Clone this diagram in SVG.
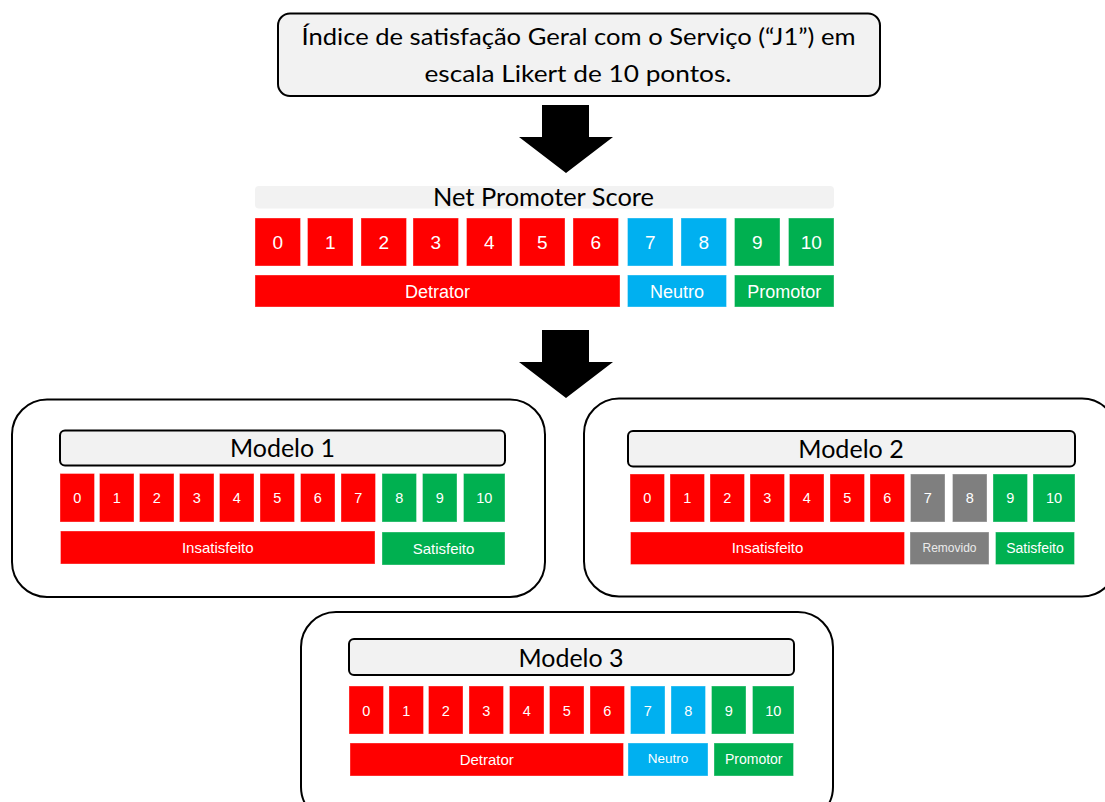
<svg xmlns="http://www.w3.org/2000/svg" width="1105" height="802" viewBox="0 0 1105 802">
  <style>
    .r { fill: #ff0000; }
    .b { fill: #00b0f0; }
    .g { fill: #00b050; }
    .k { fill: #7f7f7f; }
    .cell { stroke: #ffffff; stroke-opacity: 0.35; stroke-width: 1; }
    .panel { fill: #ffffff; stroke: #000000; stroke-width: 2; }
    .head { fill: #f2f2f2; stroke: #000000; stroke-width: 2; }
    .ttl { font-family: Lato, "Open Sans", sans-serif; font-weight: 400; fill: #000000; text-anchor: middle; }
    .lbl { font-family: "Liberation Sans", Arial, sans-serif; fill: #ffffff; text-anchor: middle; }
    .arrow { fill: #000000; }
  </style>

  <rect x="0" y="0" width="1105" height="802" fill="#ffffff"/>

  <!-- source question -->
  <g id="source">
    <rect class="head" x="278" y="13.5" width="602" height="82.5" rx="12"/>
    <text class="ttl" x="578.5" y="45" font-size="23.5" textLength="554" lengthAdjust="spacingAndGlyphs">Índice de satisfação Geral com o Serviço (“J1”) em</text>
    <text class="ttl" x="578" y="81.5" font-size="23.5" textLength="307" lengthAdjust="spacingAndGlyphs">escala Likert de 10 pontos.</text>
  </g>

  <!-- block arrows between stages -->
  <g id="connectors">
    <path class="arrow" d="M542,105 H589 V137 H613 L566,173 L519,137 H542 Z"/>
    <path class="arrow" d="M542,330 H589 V362 H613 L566,398 L519,362 H542 Z"/>
  </g>

  <!-- Net Promoter Score scale -->
  <g id="nps">
    <rect x="255" y="186" width="579" height="22.5" rx="4" fill="#f2f2f2"/>
    <text class="ttl" x="543.5" y="206" font-size="25" textLength="221" lengthAdjust="spacingAndGlyphs">Net Promoter Score</text>
    <g class="cell">
      <rect class="r" x="255" y="218" width="45.5" height="48"/>
      <rect class="r" x="307.5" y="218" width="45.5" height="48"/>
      <rect class="r" x="361" y="218" width="45.5" height="48"/>
      <rect class="r" x="413" y="218" width="45.5" height="48"/>
      <rect class="r" x="466.5" y="218" width="45.5" height="48"/>
      <rect class="r" x="519.5" y="218" width="45.5" height="48"/>
      <rect class="r" x="573" y="218" width="45.5" height="48"/>
      <rect class="b" x="627.5" y="218" width="45.5" height="48"/>
      <rect class="b" x="681" y="218" width="45.5" height="48"/>
      <rect class="g" x="734.5" y="218" width="45.5" height="48"/>
      <rect class="g" x="788.5" y="218" width="45.5" height="48"/>
      <rect class="r" x="255" y="275" width="365" height="32"/>
      <rect class="b" x="627.5" y="275" width="99" height="32"/>
      <rect class="g" x="734.5" y="275" width="99.5" height="32"/>
    </g>
    <g class="lbl" font-size="19">
      <text x="277.75" y="249">0</text>
      <text x="330.25" y="249">1</text>
      <text x="383.75" y="249">2</text>
      <text x="435.75" y="249">3</text>
      <text x="489.25" y="249">4</text>
      <text x="542.25" y="249">5</text>
      <text x="595.75" y="249">6</text>
      <text x="650.25" y="249">7</text>
      <text x="703.75" y="249">8</text>
      <text x="757.25" y="249">9</text>
      <text x="811.25" y="249">10</text>
    </g>
    <g class="lbl" font-size="18">
      <text x="437.5" y="298">Detrator</text>
      <text x="677" y="298">Neutro</text>
      <text x="784.25" y="298">Promotor</text>
    </g>
  </g>

  <!-- Modelo 1: 0-7 unsatisfied, 8-10 satisfied -->
  <g id="modelo1">
    <rect class="panel" x="12" y="399.5" width="533" height="197.5" rx="35"/>
    <rect class="head" x="60" y="430.5" width="445" height="35" rx="5"/>
    <text class="ttl" x="282.5" y="457" font-size="24.5" textLength="105" lengthAdjust="spacingAndGlyphs">Modelo 1</text>
    <g class="cell">
      <rect class="r" x="60" y="473.5" width="34.5" height="48.5"/>
      <rect class="r" x="99.5" y="473.5" width="34.5" height="48.5"/>
      <rect class="r" x="139.5" y="473.5" width="34.5" height="48.5"/>
      <rect class="r" x="179.5" y="473.5" width="34.5" height="48.5"/>
      <rect class="r" x="219.5" y="473.5" width="34.5" height="48.5"/>
      <rect class="r" x="260" y="473.5" width="34.5" height="48.5"/>
      <rect class="r" x="300.5" y="473.5" width="34.5" height="48.5"/>
      <rect class="r" x="341" y="473.5" width="34.5" height="48.5"/>
      <rect class="g" x="382" y="473.5" width="34.5" height="48.5"/>
      <rect class="g" x="422.5" y="473.5" width="34.5" height="48.5"/>
      <rect class="g" x="463.5" y="473.5" width="41.5" height="48.5"/>
      <rect class="r" x="60.5" y="531" width="314.5" height="33"/>
      <rect class="g" x="382" y="532" width="123" height="33"/>
    </g>
    <g class="lbl" font-size="14.5">
      <text x="77.25" y="503">0</text>
      <text x="116.75" y="503">1</text>
      <text x="156.75" y="503">2</text>
      <text x="196.75" y="503">3</text>
      <text x="236.75" y="503">4</text>
      <text x="277.25" y="503">5</text>
      <text x="317.75" y="503">6</text>
      <text x="358.25" y="503">7</text>
      <text x="399.25" y="503">8</text>
      <text x="439.75" y="503">9</text>
      <text x="484.25" y="503">10</text>
    </g>
    <g class="lbl" font-size="15">
      <text x="217.75" y="553">Insatisfeito</text>
      <text x="443.5" y="554">Satisfeito</text>
    </g>
  </g>

  <!-- Modelo 2: 7-8 removed -->
  <g id="modelo2">
    <rect class="panel" x="584" y="398.5" width="533" height="198" rx="35"/>
    <rect class="head" x="628" y="431" width="447" height="35.5" rx="5"/>
    <text class="ttl" x="851" y="458" font-size="24.5" textLength="105.5" lengthAdjust="spacingAndGlyphs">Modelo 2</text>
    <g class="cell">
      <rect class="r" x="630" y="474" width="34.5" height="48"/>
      <rect class="r" x="670" y="474" width="34.5" height="48"/>
      <rect class="r" x="710" y="474" width="34.5" height="48"/>
      <rect class="r" x="750" y="474" width="34.5" height="48"/>
      <rect class="r" x="789.5" y="474" width="34.5" height="48"/>
      <rect class="r" x="830" y="474" width="34.5" height="48"/>
      <rect class="r" x="870" y="474" width="34.5" height="48"/>
      <rect class="k" x="910.5" y="474" width="34.5" height="48"/>
      <rect class="k" x="952.5" y="474" width="34.5" height="48"/>
      <rect class="g" x="993" y="474" width="34.5" height="48"/>
      <rect class="g" x="1033" y="474" width="42" height="48"/>
      <rect class="r" x="630.5" y="532" width="274" height="32.5"/>
      <rect class="k" x="910" y="532" width="79" height="32.5"/>
      <rect class="g" x="995.5" y="532" width="79" height="32.5"/>
    </g>
    <g class="lbl" font-size="14.5">
      <text x="647.25" y="503">0</text>
      <text x="687.25" y="503">1</text>
      <text x="727.25" y="503">2</text>
      <text x="767.25" y="503">3</text>
      <text x="806.75" y="503">4</text>
      <text x="847.25" y="503">5</text>
      <text x="887.25" y="503">6</text>
      <text x="927.75" y="503">7</text>
      <text x="969.75" y="503">8</text>
      <text x="1010.25" y="503">9</text>
      <text x="1054" y="503">10</text>
    </g>
    <text class="lbl" x="767.5" y="553" font-size="15">Insatisfeito</text>
    <text class="lbl" x="949.5" y="552" font-size="12" style="fill:#ebebeb">Removido</text>
    <text class="lbl" x="1035" y="553" font-size="14">Satisfeito</text>
  </g>

  <!-- Modelo 3: NPS grouping kept -->
  <g id="modelo3">
    <rect class="panel" x="301" y="612" width="532" height="210" rx="35"/>
    <rect class="head" x="349" y="639" width="445" height="36" rx="5"/>
    <text class="ttl" x="571" y="666.5" font-size="24.5" textLength="105" lengthAdjust="spacingAndGlyphs">Modelo 3</text>
    <g class="cell">
      <rect class="r" x="349" y="686" width="34.5" height="48"/>
      <rect class="r" x="389" y="686" width="34.5" height="48"/>
      <rect class="r" x="428.5" y="686" width="34.5" height="48"/>
      <rect class="r" x="469" y="686" width="34.5" height="48"/>
      <rect class="r" x="509.5" y="686" width="34.5" height="48"/>
      <rect class="r" x="549.5" y="686" width="34.5" height="48"/>
      <rect class="r" x="590" y="686" width="34.5" height="48"/>
      <rect class="b" x="630.5" y="686" width="34.5" height="48"/>
      <rect class="b" x="671" y="686" width="34.5" height="48"/>
      <rect class="g" x="711.5" y="686" width="34.5" height="48"/>
      <rect class="g" x="752.5" y="686" width="41.5" height="48"/>
      <rect class="r" x="350" y="743" width="273.5" height="33"/>
      <rect class="b" x="628" y="743" width="80" height="33"/>
      <rect class="g" x="714" y="743" width="79.5" height="33"/>
    </g>
    <g class="lbl" font-size="14.5">
      <text x="366.25" y="715.5">0</text>
      <text x="406.25" y="715.5">1</text>
      <text x="445.75" y="715.5">2</text>
      <text x="486.25" y="715.5">3</text>
      <text x="526.75" y="715.5">4</text>
      <text x="566.75" y="715.5">5</text>
      <text x="607.25" y="715.5">6</text>
      <text x="647.75" y="715.5">7</text>
      <text x="688.25" y="715.5">8</text>
      <text x="728.75" y="715.5">9</text>
      <text x="773.25" y="715.5">10</text>
    </g>
    <text class="lbl" x="486.75" y="765" font-size="15">Detrator</text>
    <text class="lbl" x="668" y="763" font-size="13.5">Neutro</text>
    <text class="lbl" x="753.75" y="764" font-size="14">Promotor</text>
  </g>
</svg>
